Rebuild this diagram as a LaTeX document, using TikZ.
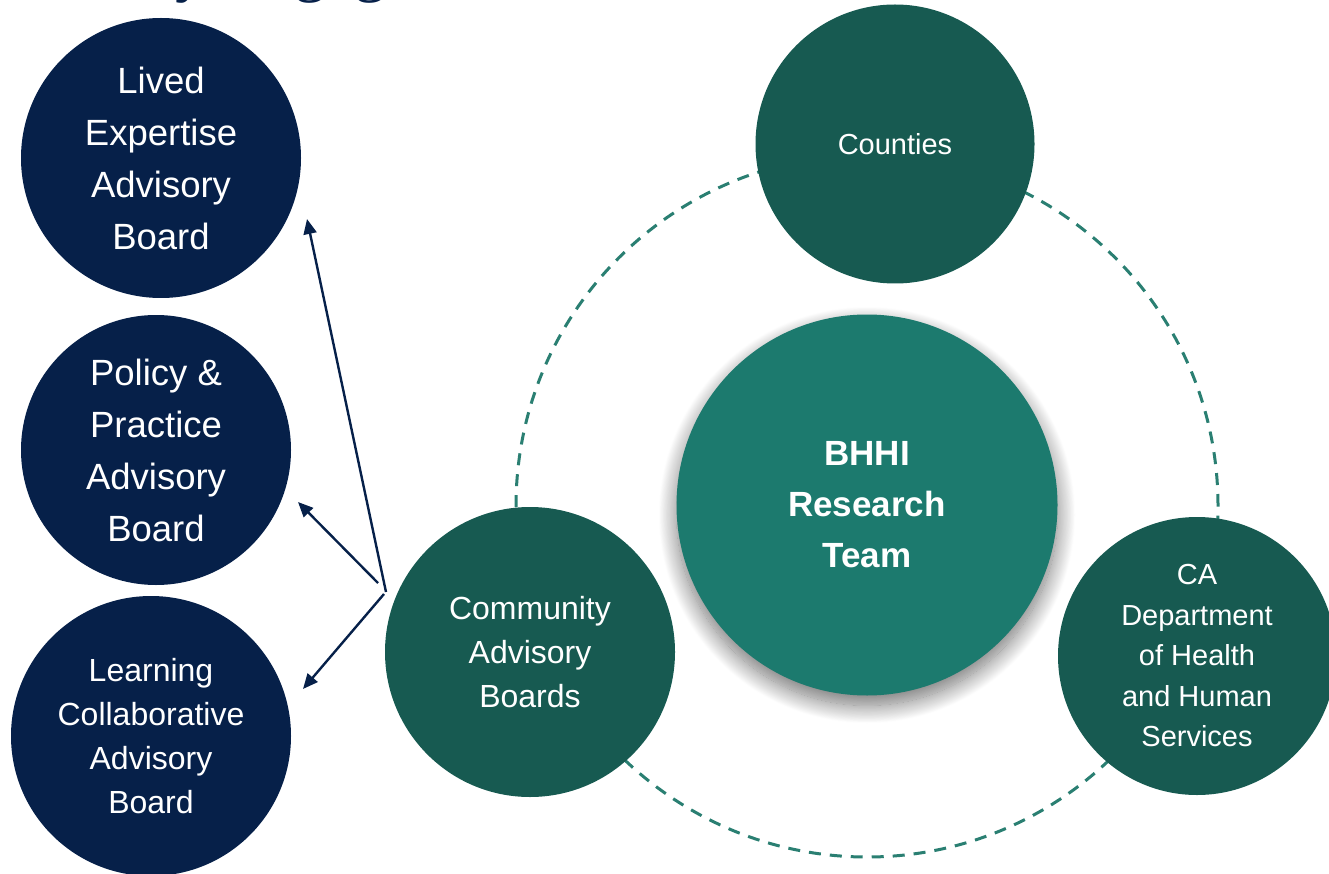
\documentclass[tikz,border=0pt]{standalone}
\usepackage{fontspec}
\setmainfont{Liberation Sans}
\newfontfamily\titlefont{Liberation Serif}
\usetikzlibrary{arrows.meta,shadows.blur}
\definecolor{navy}{HTML}{062049}
\definecolor{dgreen}{HTML}{175A51}
\definecolor{bhteal}{HTML}{1C7A6E}
\definecolor{dashcol}{HTML}{2A7F72}
\begin{document}
\begin{tikzpicture}[x=1pt,y=-1pt,
  board/.style={circle, fill=navy, text=white, inner sep=0pt, align=center,
    font=\fontsize{36.5}{52}\selectfont},
  partner/.style={circle, fill=dgreen, text=white, inner sep=0pt, align=center,
    font=\fontsize{32}{44}\selectfont},
  core/.style={circle, fill=bhteal, text=white, inner sep=0pt, align=center,
    font=\bfseries\fontsize{35}{51}\selectfont,
    blur shadow={shadow xshift=0pt, shadow yshift=-10pt, shadow blur radius=18pt,
      shadow blur steps=24, shadow opacity=55}},
  ring/.style={draw=dashcol, line width=3pt, dash pattern=on 12pt off 9pt},
  arr/.style={draw=navy, line width=2.4pt, -{Triangle[length=15pt,width=13pt]}}]
\useasboundingbox (0,0) rectangle (1329,874);
\clip (0,0) rectangle (1329,874);
% cropped title
\node[anchor=base west, inner sep=0pt, text=navy, font=\titlefont\fontsize{64}{64}\selectfont] (title) at (-99,-10) {Community Engagement};
% dashed ring
\draw[ring] (867,506) circle[radius=351pt];
% partner circles
\node[partner, minimum size=279pt, font=\fontsize{29}{44}\selectfont] (counties) at (895,144) {Counties};
\node[partner, minimum size=290pt] (cab) at (530,652) {Community\\Advisory\\Boards};
\node[partner, minimum size=278pt, font=\fontsize{29}{40.5}\selectfont] (cadhhs) at (1197,656) {CA\\Department\\of Health\\and Human\\Services};
% core
\node[core, minimum size=381pt] (bhhi) at (867,505) {BHHI\\Research\\Team};
% advisory boards
\node[board, minimum size=280pt] (lived) at (161,158) {Lived\\Expertise\\Advisory\\Board};
\node[board, minimum size=270pt] (policy) at (156,450) {Policy \&\\Practice\\Advisory\\Board};
\node[board, minimum size=280pt, font=\fontsize{32}{44}\selectfont] (learning) at (151,736) {Learning\\Collaborative\\Advisory\\Board};
% arrows
\coordinate (hubA) at (386,592);
\coordinate (hubB) at (378,583);
\coordinate (hubC) at (384,594);
\coordinate (tipA) at (307,219);
\coordinate (tipB) at (298,502);
\coordinate (tipC) at (303,689);
\draw[arr] (hubA) -- (tipA);
\draw[arr] (hubB) -- (tipB);
\draw[arr] (hubC) -- (tipC);
\end{tikzpicture}
\end{document}
